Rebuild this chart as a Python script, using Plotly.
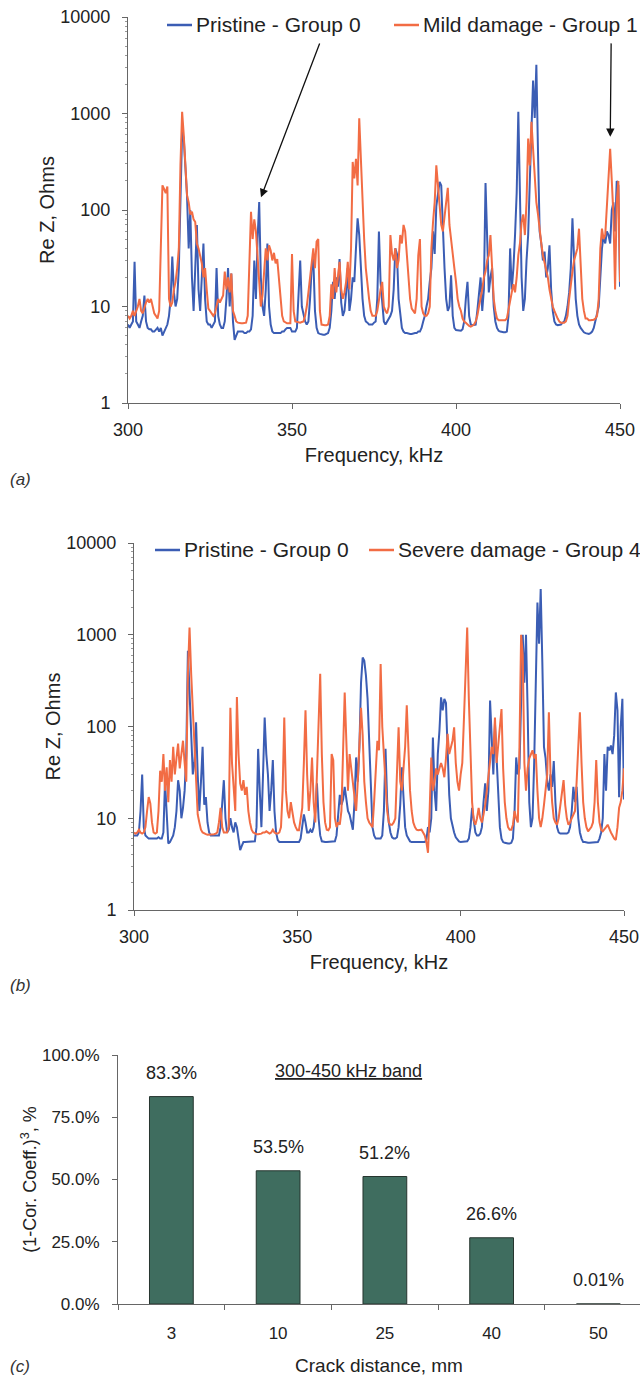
import numpy as np
import plotly.graph_objects as go

# Frequency sweep grid (kHz), 0.5 kHz resolution
FREQ = np.arange(300, 450.5, 0.5)

# Real part of impedance (Ohms), panel (a)
PRISTINE_A = [
    6.5, 6, 6.5, 7, 29, 7, 6.5, 6, 7, 8,
    13, 7, 6, 5.8, 5.8, 5.5, 5.5, 5.8, 6, 5.5,
    6, 5, 5.5, 6, 6.5, 8, 12, 33, 14, 10,
    12, 25, 120, 650, 550, 300, 140, 40, 100, 20,
    9, 25, 70, 15, 9, 20, 45, 12, 7, 6.5,
    6.5, 6, 6.5, 7, 25, 8, 6.5, 6, 6, 7,
    12, 25, 10, 22, 7, 4.5, 5, 5.5, 5.5, 5.5,
    5.5, 5.3, 5.3, 5.5, 5.5, 5.8, 8, 30, 12, 50,
    121, 20, 10, 8, 15, 45, 10, 6.5, 5.5, 5.3,
    5.3, 5.3, 5.3, 5.3, 5.5, 5.5, 5.8, 6, 6, 6,
    5.5, 5.5, 5.5, 6, 12, 30, 10, 8, 7, 6.5,
    7, 12, 25, 31, 9, 6, 5.3, 5.2, 5.1, 5.1,
    5.1, 5.2, 5.3, 6, 9, 18, 12, 20, 16, 31,
    11, 8, 9, 14, 25, 9, 12, 20, 18, 40,
    82, 55, 25, 12, 8, 7, 6.8, 6.5, 6.5, 6.5,
    6.8, 7, 12, 60, 18, 10, 7, 6.5, 7, 7.5,
    8, 9, 15, 40, 35, 12, 8, 6, 5.5, 5.3,
    5.3, 5.2, 5.2, 5.2, 5.3, 5.3, 5.3, 5.5, 5.5, 6,
    7, 8, 10, 12, 18, 25, 60, 35, 110, 150,
    196, 180, 60, 25, 12, 9, 10, 21, 8, 6,
    5.7, 5.7, 5.6, 5.6, 5.8, 7, 12, 18, 8, 6.5,
    6.4, 6.4, 6.5, 9, 14, 20, 9, 15, 190, 40,
    14, 20, 25, 10, 7, 6, 5.6, 5.5, 5.4, 5.4,
    5.4, 5.5, 8, 40, 15, 25, 55, 150, 1040, 120,
    20, 9, 12, 30, 55, 200, 800, 2200, 900, 3200,
    400, 60, 45, 30, 37, 20, 25, 43, 15, 9,
    7, 6.5, 6.4, 6.4, 6.5, 6.8, 7, 8, 10, 14,
    25, 82, 30, 12, 8, 6.5, 6, 5.6, 5.4, 5.3,
    5.2, 5.2, 5.3, 5.5, 6, 7, 8, 10, 20, 40,
    55, 45, 60, 55, 45, 100, 120, 60, 200, 180,
    16,
]

MILD_A = [
    8, 7.5, 8, 9, 8, 9, 10, 12, 9, 8.5,
    10, 11, 12, 11, 12, 10, 8.5, 8, 7.5, 9,
    60, 180, 165, 150, 175, 12, 10, 11, 15, 18,
    25, 40, 300, 1040, 600, 300, 142, 120, 90, 96,
    80, 75, 45, 40, 33, 28, 20, 25, 15, 9.5,
    9, 8.5, 8, 8.5, 10, 12, 11, 12, 13, 23,
    15, 20, 14, 22, 9, 8, 7, 6.8, 6.7, 6.7,
    6.7, 6.7, 6.8, 8, 30, 96, 50, 80, 60, 30,
    18, 10, 13, 25, 40, 30, 43, 38, 30, 36,
    28, 31, 20, 12, 8, 7, 6.8, 6.7, 6.7, 6.7,
    35, 9, 7, 6.9, 6.8, 6.8, 6.9, 7, 8, 10,
    14, 20, 29, 40, 25, 47, 50, 9, 6.5, 6.4,
    6.4, 6.4, 6.5, 8, 17, 12, 25, 14, 20, 29,
    15, 12, 14, 18, 29, 15, 40, 315, 213, 340,
    180, 890, 340, 100, 50, 25, 16, 12, 9, 8,
    8, 8, 9, 12, 15, 18, 10, 9, 8.5, 10,
    55, 35, 30, 40, 25, 30, 55, 45, 70, 60,
    35, 18, 12, 9.5, 9, 8.5, 12, 34, 50, 10,
    8.5, 8, 8, 8.5, 10, 40, 75, 120, 290, 180,
    120, 70, 60, 90, 120, 170, 70, 47, 35, 25,
    18, 12, 10, 9, 7.5, 7, 6.8, 6.5, 6.3, 6.2,
    6.3, 6.5, 7, 8, 10, 12, 15, 20, 23, 30,
    34, 55, 25, 12, 9, 7.5, 7.2, 7.2, 7.2, 7.2,
    7.2, 7.5, 9, 11, 14, 17, 14, 20, 34, 45,
    75, 90, 55, 120, 550, 290, 820, 430, 195, 120,
    90, 60, 45, 34, 29, 25, 20, 15, 12, 10,
    9, 8, 7.5, 7, 6.8, 6.8, 6.8, 7, 8, 12,
    18, 23, 30, 34, 40, 64, 30, 12, 9, 7.5,
    7.5, 7.2, 7.2, 7.2, 7.3, 7.5, 8, 12, 40, 64,
    50, 55, 100, 196, 430, 200, 88, 15, 120, 200,
    18,
]

# Real part of impedance (Ohms), panel (b)
PRISTINE_B = [
    6.5, 6.5, 6.5, 7, 12, 30, 8, 6.5, 6.2, 6,
    6, 6, 6, 6, 6, 6.2, 6, 6, 7, 25,
    10, 5.3, 5.5, 6, 6.5, 8, 12, 26, 20, 10,
    13, 20, 50, 670, 200, 60, 30, 40, 111, 30,
    12, 25, 60, 14, 17, 9, 7, 6.5, 6.5, 6.5,
    6.5, 6.5, 6.5, 8, 15, 26, 10, 7, 7.5, 10,
    8, 7, 9, 8, 6, 4.5, 5, 5.5, 5.5, 5.5,
    5.5, 5.5, 5.5, 5.5, 5.6, 8, 57, 20, 8, 30,
    125, 50, 30, 12, 20, 43, 12, 7, 5.8, 5.5,
    5.5, 5.5, 5.5, 5.5, 5.5, 5.5, 5.5, 5.6, 5.6, 5.6,
    5.5, 5.5, 6, 8, 11, 9, 7, 7, 7.5, 7,
    8, 12, 24, 10, 6.5, 5.6, 5.5, 5.5, 5.5, 5.5,
    5.5, 5.5, 5.5, 5.6, 6.5, 10, 18, 14, 16, 22,
    15, 12, 11, 9, 7.5, 15, 46, 25, 60, 300,
    565, 520, 360, 200, 60, 18, 8, 6.5, 6, 6,
    6, 6, 6.5, 12, 57, 15, 9, 7, 6.2, 6,
    6, 6.2, 8, 14, 36, 14, 8, 6.5, 6, 5.6,
    5.5, 5.5, 5.5, 5.5, 5.5, 5.5, 5.5, 5.5, 5.5, 5.8,
    8, 7, 10, 76, 20, 12, 50, 90, 208, 150,
    200, 180, 60, 18, 10, 8, 7, 6.2, 5.8, 5.6,
    5.5, 5.5, 5.5, 5.5, 5.6, 6, 8, 13, 10, 7,
    6.5, 6.5, 6.8, 8, 15, 24, 12, 20, 192, 60,
    30, 107, 40, 15, 8, 6, 5.5, 5.4, 5.3, 5.3,
    5.3, 5.4, 6, 12, 46, 30, 35, 200, 1000, 300,
    1000, 150, 15, 8, 10, 40, 300, 2240, 800, 3150,
    500, 60, 45, 25, 20, 30, 22, 42, 15, 8,
    7, 6.8, 6.8, 6.8, 6.8, 6.8, 7, 8, 12, 22,
    15, 22, 10, 7, 6, 5.5, 5.5, 5.4, 5.4, 5.4,
    5.4, 5.4, 5.4, 5.5, 5.5, 6, 7, 10, 50, 20,
    60, 55, 62, 50, 80, 235, 150, 17, 100, 200,
    16,
]

SEVERE_B = [
    7, 6.8, 7, 7.5, 7, 6.8, 7, 8, 12, 17,
    14.5, 9, 7, 6.8, 7, 12, 33, 25, 50, 20,
    36, 15, 43, 25, 60, 30, 45, 65, 35, 50,
    70, 40, 25, 375, 1200, 375, 150, 70, 20, 11,
    9, 7.5, 7, 6.8, 6.7, 6.6, 6.6, 6.6, 6.6, 6.7,
    6.8, 7, 9, 13, 8, 7, 7, 7, 8, 160,
    40, 20, 12, 210, 50, 24, 20, 26, 18, 22,
    12, 9, 7.5, 7, 6.8, 6.7, 6.7, 6.7, 6.8, 7,
    7, 7.2, 7, 6.8, 7, 7.5, 7, 6.8, 6.8, 7,
    8, 20, 125, 20, 12, 10, 15, 12, 9, 8,
    7.4, 7.4, 10, 13, 40, 150, 30, 12, 20, 46,
    15, 9, 30, 120, 375, 50, 15, 9, 7.5, 7.4,
    8, 50, 43, 10, 8, 9, 8.5, 12, 50, 235,
    70, 20, 50, 35, 25, 15, 12, 25, 60, 160,
    80, 25, 15, 10, 9, 8.5, 8, 15, 40, 70,
    55, 480, 100, 50, 20, 12, 9, 8.5, 8.5, 9,
    10, 30, 98, 25, 20, 35, 60, 170, 50, 20,
    12, 9, 8, 7.5, 7.4, 7.5, 7.5, 7, 6.5, 5.5,
    4.2, 12, 46, 20, 25, 35, 30, 35, 40, 35,
    28, 45, 83, 50, 60, 70, 98, 40, 25, 20,
    30, 40, 120, 400, 1200, 200, 40, 15, 9.5, 8.5,
    10, 13, 10, 9, 11, 14, 20, 30, 43, 60,
    50, 125, 40, 60, 100, 155, 35, 15, 10, 8,
    7.5, 7.5, 8.5, 12, 10, 9, 60, 1000, 600, 40,
    20, 35, 45, 50, 55, 45, 50, 20, 10, 8,
    10, 14, 20, 30, 143, 30, 15, 10, 9, 8.5,
    10, 14, 20, 26, 14, 10, 8.5, 9, 10, 11,
    12, 25, 60, 143, 40, 15, 10, 8, 7.2, 7.5,
    8, 9, 15, 43, 15, 9, 7.5, 7.2, 7.5, 8,
    8.5, 7.5, 7, 6.5, 6, 5.8, 8, 13, 15, 20,
    35,
]

# Damage metric vs crack distance, panel (c)
CRACK_DISTANCE_MM = ["3", "10", "25", "40", "50"]
DAMAGE_METRIC_PCT = [83.3, 53.5, 51.2, 26.6, 0.01]

LOG_TICKS = [1, 10, 100, 1000, 10000]
LOG_TICK_TEXT = ["1", "10", "100", "1000", "10000"]
FREQ_TICKS = [300, 350, 400, 450]
PCT_TICKS = [0, 25, 50, 75, 100]

NAME_PRISTINE = "Pristine - Group 0"
NAME_MILD = "Mild damage - Group 1"
NAME_SEVERE = "Severe damage - Group 4"

W, H = 640, 1376
FONT = "Liberation Sans, Arial, sans-serif"
TXT = "#222222"
AXC = "#666666"
BLUE = "#3b5db4"
ORANGE = "#f26c44"
BAR_FILL = "#3f6d5f"
BAR_EDGE = "#26352f"


def px_x(p):
    return p / W


def px_y(p):
    return 1 - p / H


fig = go.Figure()

fig.add_trace(go.Scatter(x=FREQ, y=PRISTINE_A, mode="lines", name=NAME_PRISTINE,
                         line=dict(color=BLUE, width=2), xaxis="x", yaxis="y"))
fig.add_trace(go.Scatter(x=FREQ, y=MILD_A, mode="lines", name=NAME_MILD,
                         line=dict(color=ORANGE, width=2), xaxis="x", yaxis="y"))
fig.add_trace(go.Scatter(x=FREQ, y=PRISTINE_B, mode="lines", name=NAME_PRISTINE,
                         line=dict(color=BLUE, width=2), xaxis="x2", yaxis="y2"))
fig.add_trace(go.Scatter(x=FREQ, y=SEVERE_B, mode="lines", name=NAME_SEVERE,
                         line=dict(color=ORANGE, width=2), xaxis="x2", yaxis="y2"))
fig.add_trace(go.Bar(x=CRACK_DISTANCE_MM, y=DAMAGE_METRIC_PCT, width=0.41,
                     marker=dict(color=BAR_FILL, line=dict(color=BAR_EDGE, width=1)),
                     xaxis="x3", yaxis="y3"))

freq_axis = dict(range=[300, 450], tickvals=FREQ_TICKS, ticks="outside", ticklen=5,
                 tickcolor=AXC, showline=True, linecolor=AXC, linewidth=1, showgrid=False,
                 zeroline=False, tickfont=dict(size=18, color=TXT), ticklabelstandoff=5,
                 automargin=False,
                 title=dict(text="Frequency, kHz", font=dict(size=20, color=TXT), standoff=9))
log_axis = dict(type="log", range=[0, 4], tickvals=LOG_TICKS, ticktext=LOG_TICK_TEXT,
                ticks="outside", ticklen=5, tickcolor=AXC, showline=True, linecolor=AXC,
                linewidth=1, showgrid=False, zeroline=False, ticklabelstandoff=8,
                tickfont=dict(size=18, color=TXT), automargin=False,
                minor=dict(ticks="outside", ticklen=2, tickcolor="#999999", dtick="D1"),
                title=dict(text="Re Z, Ohms", font=dict(size=20, color=TXT), standoff=0))

fig.update_layout(
    width=W, height=H, margin=dict(l=0, r=0, t=0, b=0, autoexpand=False),
    paper_bgcolor="white", plot_bgcolor="white", showlegend=False,
    font=dict(family=FONT, color=TXT),
    xaxis=dict(freq_axis, domain=[px_x(128), px_x(620)], anchor="y"),
    yaxis=dict(log_axis, domain=[px_y(403), px_y(17)], anchor="x"),
    xaxis2=dict(freq_axis, domain=[px_x(134), px_x(624)], anchor="y2"),
    yaxis2=dict(log_axis, domain=[px_y(910), px_y(543)], anchor="x2"),
    xaxis3=dict(type="category", range=[-0.5, 4.39], tickson="boundaries", ticks="outside",
                ticklen=5, tickcolor=AXC, showline=True, linecolor=AXC, linewidth=1,
                showgrid=False, zeroline=False, tickfont=dict(size=17, color=TXT),
                ticklabelstandoff=14, domain=[px_x(118), 1.0], anchor="y3", automargin=False,
                title=dict(text="Crack distance, mm", font=dict(size=19, color=TXT), standoff=16)),
    yaxis3=dict(range=[0, 100], tickvals=PCT_TICKS,
                ticktext=[f"{v:.1f}%" for v in PCT_TICKS],
                ticks="outside", ticklen=5, tickcolor=AXC, showline=True, linecolor=AXC,
                linewidth=1, showgrid=False, zeroline=False, tickfont=dict(size=17, color=TXT),
                ticklabelstandoff=9, domain=[px_y(1304), px_y(1055)], anchor="x3",
                automargin=False,
                title=dict(text="(1-Cor. Coeff.)<sup>3</sup>, %", font=dict(size=18, color=TXT),
                           standoff=0)),
)

shapes = []
annotations = []

# Legend keys: short line sample followed by the series name
LEGEND_KEYS = [
    (167, 25, BLUE, NAME_PRISTINE),
    (394, 25, ORANGE, NAME_MILD),
    (155, 550, BLUE, NAME_PRISTINE),
    (369, 550, ORANGE, NAME_SEVERE),
]
for x0, yc, color, label in LEGEND_KEYS:
    shapes.append(dict(type="line", xref="paper", yref="paper", x0=px_x(x0), x1=px_x(x0 + 25),
                       y0=px_y(yc), y1=px_y(yc), line=dict(color=color, width=2.5)))
    annotations.append(dict(x=px_x(x0 + 27), y=px_y(yc), xref="paper", yref="paper",
                            xanchor="left", yanchor="middle", text=label, showarrow=False,
                            font=dict(size=21, color=TXT)))

# Arrows pointing at the resonance peaks discussed in panel (a)
i340 = int(np.argmin(np.abs(FREQ - 340)))
i447 = int(np.argmin(np.abs(FREQ - 447)))
annotations.append(dict(x=FREQ[i340], y=np.log10(PRISTINE_A[i340]), xref="x", yref="y",
                        showarrow=True, arrowhead=2, arrowsize=1.3, arrowwidth=1.3,
                        arrowcolor="#111111", ax=61, ay=-160, standoff=5, text=""))
annotations.append(dict(x=FREQ[i447], y=np.log10(MILD_A[i447]), xref="x", yref="y",
                        showarrow=True, arrowhead=2, arrowsize=1.3, arrowwidth=1.3,
                        arrowcolor="#111111", ax=1, ay=-107, standoff=12, text=""))

# Bar value labels
for idx, val in enumerate(DAMAGE_METRIC_PCT):
    annotations.append(dict(x=idx, y=val, xref="x3", yref="y3", text=f"{val}%",
                            showarrow=False, yanchor="bottom", yshift=12,
                            font=dict(size=18, color=TXT)))

annotations.append(dict(x=px_x(348), y=px_y(1083), xref="paper", yref="paper",
                        text="<u>300-450 kHz band</u>", showarrow=False,
                        font=dict(size=18, color=TXT)))

# Panel tags
for tag, ypx in (("a", 480), ("b", 985), ("c", 1366)):
    annotations.append(dict(x=px_x(8), y=px_y(ypx), xref="paper", yref="paper",
                            xanchor="left", yanchor="middle", text=f"<i>({tag})</i>",
                            showarrow=False, font=dict(size=17, color="#333333")))

fig.update_layout(shapes=shapes, annotations=annotations)

fig.write_html("out.html")
